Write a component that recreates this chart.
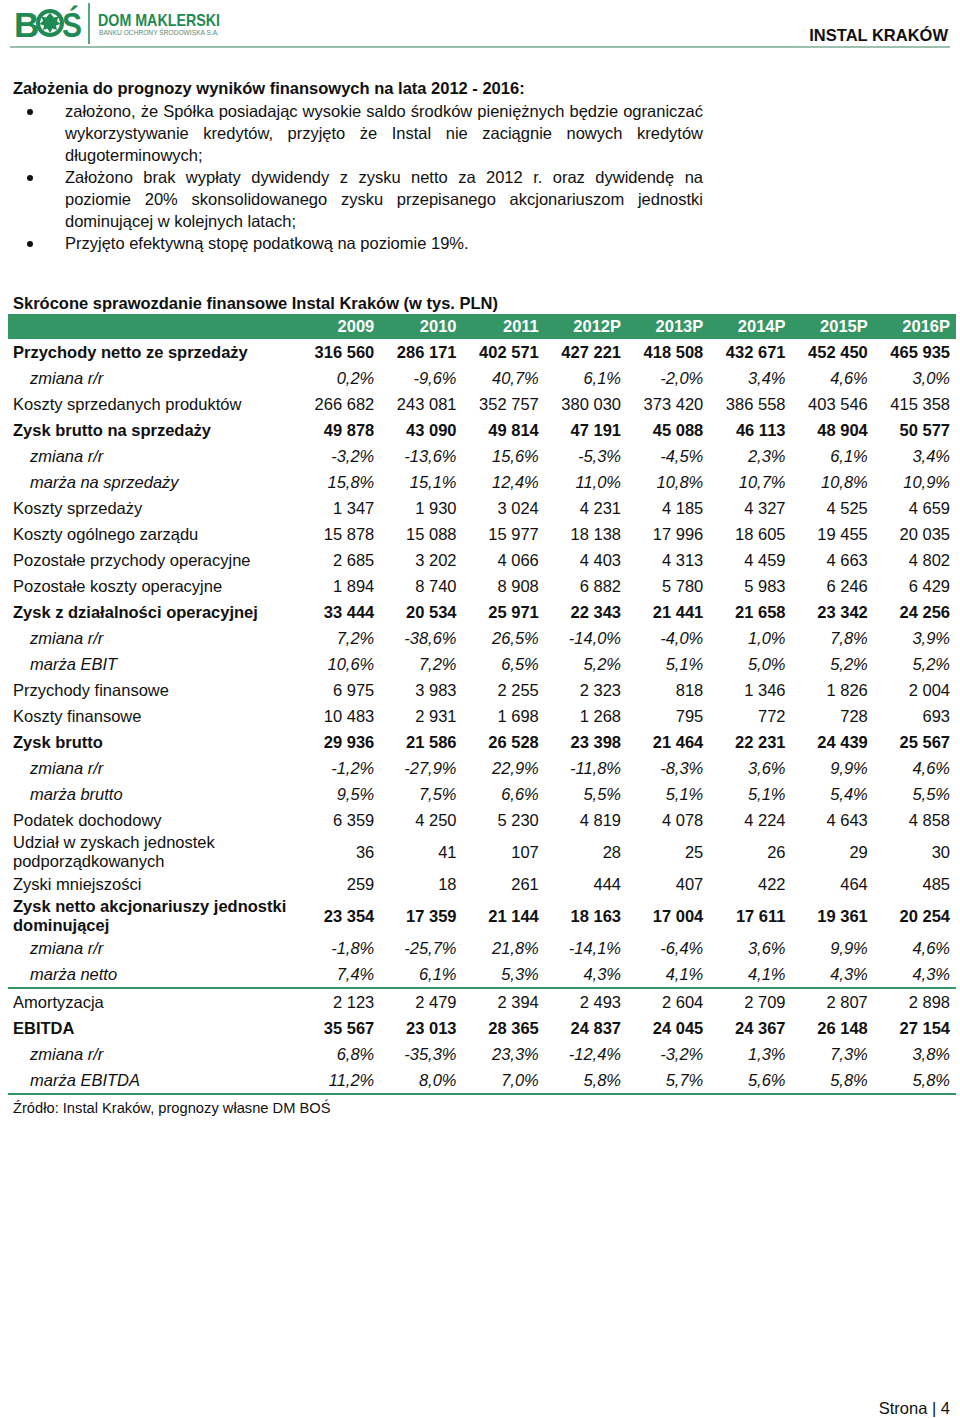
import React from 'react';

const YEARS = ['2009', '2010', '2011', '2012P', '2013P', '2014P', '2015P', '2016P'];

const revenue = [316560, 286171, 402571, 427221, 418508, 432671, 452450, 465935];
const revenueChg = [0.2, -9.6, 40.7, 6.1, -2.0, 3.4, 4.6, 3.0];
const cogs = [266682, 243081, 352757, 380030, 373420, 386558, 403546, 415358];
const grossProfit = [49878, 43090, 49814, 47191, 45088, 46113, 48904, 50577];
const grossProfitChg = [-3.2, -13.6, 15.6, -5.3, -4.5, 2.3, 6.1, 3.4];
const grossMargin = [15.8, 15.1, 12.4, 11.0, 10.8, 10.7, 10.8, 10.9];
const sellingCosts = [1347, 1930, 3024, 4231, 4185, 4327, 4525, 4659];
const adminCosts = [15878, 15088, 15977, 18138, 17996, 18605, 19455, 20035];
const otherOpIncome = [2685, 3202, 4066, 4403, 4313, 4459, 4663, 4802];
const otherOpCosts = [1894, 8740, 8908, 6882, 5780, 5983, 6246, 6429];
const ebit = [33444, 20534, 25971, 22343, 21441, 21658, 23342, 24256];
const ebitChg = [7.2, -38.6, 26.5, -14.0, -4.0, 1.0, 7.8, 3.9];
const ebitMargin = [10.6, 7.2, 6.5, 5.2, 5.1, 5.0, 5.2, 5.2];
const finIncome = [6975, 3983, 2255, 2323, 818, 1346, 1826, 2004];
const finCosts = [10483, 2931, 1698, 1268, 795, 772, 728, 693];
const pretax = [29936, 21586, 26528, 23398, 21464, 22231, 24439, 25567];
const pretaxChg = [-1.2, -27.9, 22.9, -11.8, -8.3, 3.6, 9.9, 4.6];
const pretaxMargin = [9.5, 7.5, 6.6, 5.5, 5.1, 5.1, 5.4, 5.5];
const incomeTax = [6359, 4250, 5230, 4819, 4078, 4224, 4643, 4858];
const associates = [36, 41, 107, 28, 25, 26, 29, 30];
const minorities = [259, 18, 261, 444, 407, 422, 464, 485];
const netProfit = [23354, 17359, 21144, 18163, 17004, 17611, 19361, 20254];
const netProfitChg = [-1.8, -25.7, 21.8, -14.1, -6.4, 3.6, 9.9, 4.6];
const netMargin = [7.4, 6.1, 5.3, 4.3, 4.1, 4.1, 4.3, 4.3];
const amortization = [2123, 2479, 2394, 2493, 2604, 2709, 2807, 2898];
const ebitda = [35567, 23013, 28365, 24837, 24045, 24367, 26148, 27154];
const ebitdaChg = [6.8, -35.3, 23.3, -12.4, -3.2, 1.3, 7.3, 3.8];
const ebitdaMargin = [11.2, 8.0, 7.0, 5.8, 5.7, 5.6, 5.8, 5.8];

type Kind = 'bold' | 'plain' | 'sub';
type Row = { label: string[]; values: number[]; kind: Kind; pct?: boolean; lineAfter?: boolean };

const ROWS: Row[] = [
  { label: ['Przychody netto ze sprzedaży'], values: revenue, kind: 'bold' },
  { label: ['zmiana r/r'], values: revenueChg, kind: 'sub', pct: true },
  { label: ['Koszty sprzedanych produktów'], values: cogs, kind: 'plain' },
  { label: ['Zysk brutto na sprzedaży'], values: grossProfit, kind: 'bold' },
  { label: ['zmiana r/r'], values: grossProfitChg, kind: 'sub', pct: true },
  { label: ['marża na sprzedaży'], values: grossMargin, kind: 'sub', pct: true },
  { label: ['Koszty sprzedaży'], values: sellingCosts, kind: 'plain' },
  { label: ['Koszty ogólnego zarządu'], values: adminCosts, kind: 'plain' },
  { label: ['Pozostałe przychody operacyjne'], values: otherOpIncome, kind: 'plain' },
  { label: ['Pozostałe koszty operacyjne'], values: otherOpCosts, kind: 'plain' },
  { label: ['Zysk z działalności operacyjnej'], values: ebit, kind: 'bold' },
  { label: ['zmiana r/r'], values: ebitChg, kind: 'sub', pct: true },
  { label: ['marża EBIT'], values: ebitMargin, kind: 'sub', pct: true },
  { label: ['Przychody finansowe'], values: finIncome, kind: 'plain' },
  { label: ['Koszty finansowe'], values: finCosts, kind: 'plain' },
  { label: ['Zysk brutto'], values: pretax, kind: 'bold' },
  { label: ['zmiana r/r'], values: pretaxChg, kind: 'sub', pct: true },
  { label: ['marża brutto'], values: pretaxMargin, kind: 'sub', pct: true },
  { label: ['Podatek dochodowy'], values: incomeTax, kind: 'plain' },
  { label: ['Udział w zyskach jednostek', 'podporządkowanych'], values: associates, kind: 'plain' },
  { label: ['Zyski mniejszości'], values: minorities, kind: 'plain' },
  { label: ['Zysk netto akcjonariuszy jednostki', 'dominującej'], values: netProfit, kind: 'bold' },
  { label: ['zmiana r/r'], values: netProfitChg, kind: 'sub', pct: true },
  { label: ['marża netto'], values: netMargin, kind: 'sub', pct: true, lineAfter: true },
  { label: ['Amortyzacja'], values: amortization, kind: 'plain' },
  { label: ['EBITDA'], values: ebitda, kind: 'bold' },
  { label: ['zmiana r/r'], values: ebitdaChg, kind: 'sub', pct: true },
  { label: ['marża EBITDA'], values: ebitdaMargin, kind: 'sub', pct: true, lineAfter: true },
];

const BULLETS: string[][] = [
  [
    'założono, że Spółka posiadając wysokie saldo środków pieniężnych będzie ograniczać',
    'wykorzystywanie kredytów, przyjęto że Instal nie zaciągnie nowych kredytów',
    'długoterminowych;',
  ],
  [
    'Założono brak wypłaty dywidendy z zysku netto za 2012 r. oraz dywidendę na',
    'poziomie 20% skonsolidowanego zysku przepisanego akcjonariuszom jednostki',
    'dominującej w kolejnych latach;',
  ],
  ['Przyjęto efektywną stopę podatkową na poziomie 19%.'],
];

const GREEN = '#349664';
const LOGO_GREEN = '#1f8a52';
const FONT = '"Liberation Sans", Arial, sans-serif';
const FS = 16.5;

const fmtNum = (v: number) => {
  const s = Math.abs(v).toString().replace(/\B(?=(\d{3})+(?!\d))/g, ' ');
  return (v < 0 ? '-' : '') + s;
};
const fmtPct = (v: number) => v.toFixed(1).replace('.', ',') + '%';

const COLS = '284px repeat(8, 82.25px) 6px';

function Logo() {
  return (
    <svg width={230} height={46} style={{ position: 'absolute', left: 12, top: 2 }}>
      <text x={2} y={35} fontFamily={FONT} fontWeight={700} fontSize={35} fill={LOGO_GREEN}>B</text>
      <circle cx={38} cy={21} r={12} fill="none" stroke={LOGO_GREEN} strokeWidth={4} />
      <path
        d="M38 11 L42 15.5 L46.5 14.5 L45 19 L48.5 22 L44 23.5 L45 28 L40.5 26.5 L38 31 L35.5 26.5 L31 28 L32 23.5 L27.5 22 L31 19 L29.5 14.5 L34 15.5 Z"
        fill={LOGO_GREEN}
      />
      <text x={50} y={35} fontFamily={FONT} fontWeight={700} fontSize={35} fill={LOGO_GREEN} textLength={20} lengthAdjust="spacingAndGlyphs">Ś</text>
      <line x1={77} y1={1} x2={77} y2={42} stroke={LOGO_GREEN} strokeWidth={1.5} />
      <text x={86} y={24} fontFamily={FONT} fontWeight={700} fontSize={17} fill={LOGO_GREEN} textLength={122} lengthAdjust="spacingAndGlyphs">
        DOM MAKLERSKI
      </text>
      <text x={87} y={33} fontFamily={FONT} fontSize={7.5} fill="#5a8a72" textLength={120} lengthAdjust="spacingAndGlyphs">
        BANKU OCHRONY ŚRODOWISKA S.A.
      </text>
    </svg>
  );
}

export default function App() {
  return (
    <div
      style={{
        position: 'absolute',
        left: 0,
        top: 0,
        width: 960,
        height: 1418,
        background: '#fff',
        fontFamily: FONT,
        color: '#111',
        overflow: 'hidden',
      }}
    >
      <Logo />
      <div style={{ position: 'absolute', right: 12, top: 26, fontWeight: 700, fontSize: FS }}>INSTAL KRAKÓW</div>
      <div style={{ position: 'absolute', left: 10, top: 46, width: 940, height: 2, background: '#9dbfae' }} />

      <div style={{ position: 'absolute', left: 13, top: 78, fontWeight: 700, fontSize: FS, lineHeight: '20px' }}>
        Założenia do prognozy wyników finansowych na lata 2012 - 2016:
      </div>
      <div style={{ position: 'absolute', left: 0, top: 100 }}>
        {BULLETS.map((para, pi) => (
          <div key={pi} style={{ position: 'relative' }}>
            <div
              style={{
                position: 'absolute',
                left: 27,
                top: 9,
                width: 6,
                height: 6,
                borderRadius: 3,
                background: '#111',
              }}
            />
            {para.map((line, li) => (
              <div
                key={li}
                style={{
                  marginLeft: 65,
                  width: 638,
                  fontSize: FS,
                  lineHeight: '22px',
                  textAlign: 'justify',
                  textAlignLast: li < para.length - 1 ? 'justify' : 'left',
                  whiteSpace: 'nowrap',
                }}
              >
                {line}
              </div>
            ))}
          </div>
        ))}
      </div>

      <div style={{ position: 'absolute', left: 13, top: 293, fontWeight: 700, fontSize: FS, lineHeight: '20px' }}>
        Skrócone sprawozdanie finansowe Instal Kraków (w tys. PLN)
      </div>

      <div style={{ position: 'absolute', left: 8, top: 314, width: 948 }}>
        <div
          style={{
            display: 'grid',
            gridTemplateColumns: COLS,
            height: 25,
            lineHeight: '25px',
            background: GREEN,
            color: '#fff',
            fontWeight: 700,
            fontSize: FS,
          }}
        >
          <div />
          {YEARS.map((y) => (
            <div key={y} style={{ textAlign: 'right' }}>{y}</div>
          ))}
          <div />
        </div>
        {ROWS.map((r, i) => {
          const two = r.label.length > 1;
          const h = two ? 38 : 26;
          const st: React.CSSProperties = {
            fontWeight: r.kind === 'bold' ? 700 : 400,
            fontStyle: r.kind === 'sub' ? 'italic' : 'normal',
          };
          return (
            <div key={i} style={{ borderBottom: r.lineAfter ? `2px solid ${GREEN}` : 'none' }}>
              <div
                style={{
                  display: 'grid',
                  gridTemplateColumns: COLS,
                  height: h,
                  alignItems: 'center',
                  fontSize: FS,
                  ...st,
                }}
              >
                <div style={{ paddingLeft: r.kind === 'sub' ? 22 : 5, lineHeight: two ? '19px' : '26px' }}>
                  {r.label.map((l, k) => (
                    <div key={k}>{l}</div>
                  ))}
                </div>
                {r.values.map((v, k) => (
                  <div key={k} style={{ textAlign: 'right' }}>{r.pct ? fmtPct(v) : fmtNum(v)}</div>
                ))}
                <div />
              </div>
            </div>
          );
        })}
      </div>

      <div style={{ position: 'absolute', left: 13, top: 1100, fontSize: 14.7, lineHeight: '17px' }}>
        Źródło: Instal Kraków, prognozy własne DM BOŚ
      </div>

      <div style={{ position: 'absolute', right: 10, top: 1399, fontSize: FS, lineHeight: '18px' }}>
        Strona | 4
      </div>
    </div>
  );
}
